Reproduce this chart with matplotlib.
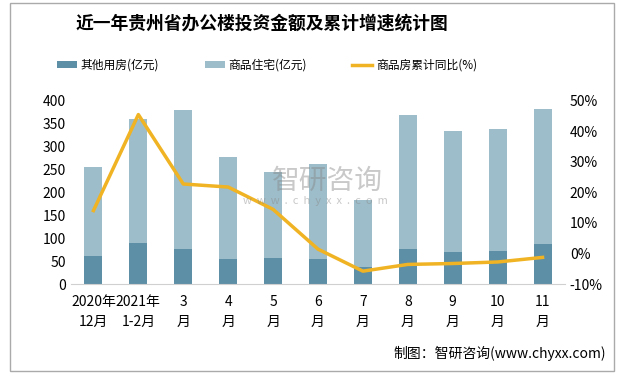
import numpy as np
import matplotlib.pyplot as plt
from matplotlib.patches import Rectangle
from matplotlib.ticker import FuncFormatter

plt.rcParams['font.family'] = ['Noto Sans CJK SC', 'DejaVu Sans']

# Data
labels = ["2020年\n12月", "2021年\n1-2月", "3\n月", "4\n月", "5\n月", "6\n月",
          "7\n月", "8\n月", "9\n月", "10\n月", "11\n月"]
other = [60, 90, 76, 55, 57, 55, 37, 76, 70, 72, 87]          # 其他用房(亿元)
total = [255, 360, 380, 277, 245, 262, 183, 369, 334, 338, 382]
residential = [t - o for t, o in zip(total, other)]          # 商品住宅(亿元)
growth = [14.0, 45.4, 22.7, 21.7, 14.4, 1.4, -5.8, -3.6, -3.3, -2.8, -1.3]  # 商品房累计同比(%)

c_dark = "#5d8fa6"
c_light = "#9dbdca"
c_line = "#f0b323"

fig = plt.figure(figsize=(6.23, 3.73), dpi=100)
fig.patches.append(Rectangle((10 / 623, 2 / 373), 604 / 623, 368 / 373, transform=fig.transFigure,
                             fill=False, edgecolor="#aaaaaa", linewidth=1))

ax = fig.add_axes([71 / 623, 1 - 284 / 373, 494 / 623, 183.5 / 373])
x = np.arange(len(labels))
ax.bar(x, other, width=0.4, color=c_dark, label="其他用房(亿元)", zorder=2)
ax.bar(x, residential, width=0.4, bottom=other, color=c_light, label="商品住宅(亿元)", zorder=2)
ax.set_xlim(-0.5, len(labels) - 0.5)
ax.set_ylim(0, 400)
ax.set_yticks(range(0, 401, 50))
ax.set_xticks(x)
ax.set_xticklabels(labels, fontsize=10, linespacing=1.5)
ax.tick_params(axis="both", length=0, labelsize=10)
ax.tick_params(axis="x", pad=8)
for s in ["top", "right", "left"]:
    ax.spines[s].set_visible(False)
ax.spines["bottom"].set_color("#d0d0d0")

ax2 = ax.twinx()
ax2.plot(x, growth, color=c_line, linewidth=2.5, label="商品房累计同比(%)", zorder=3)
ax2.set_ylim(-10, 50)
ax2.set_yticks(range(-10, 51, 10))
ax2.yaxis.set_major_formatter(FuncFormatter(lambda v, p: f"{int(v)}%"))
ax2.tick_params(axis="y", length=0, labelsize=10)
for s in ["top", "right", "left", "bottom"]:
    ax2.spines[s].set_visible(False)

# watermark
fig.text(272 / 623, 1 - 181 / 373, "智研咨询", fontsize=20, color="#888888", alpha=0.45,
         va="center", ha="left")
fig.text(243 / 623, 1 - 201 / 373, "w  w  w  .  c  h  y  x  x  .  c  o  m", fontsize=8,
         color="#888888", alpha=0.45, va="center", ha="left")

fig.text(262 / 623, 1 - 24 / 373, "近一年贵州省办公楼投资金额及累计增速统计图", fontsize=12.8,
         fontweight="bold", ha="center", va="center")

h1, l1 = ax.get_legend_handles_labels()
h2, l2 = ax2.get_legend_handles_labels()
fig.legend(h1 + h2, l1 + l2, loc="center", bbox_to_anchor=(267 / 623, 1 - 65 / 373), ncol=3,
           frameon=False, fontsize=8.5, handlelength=1.7, handleheight=0.5, columnspacing=3.85,
           handletextpad=0.3)

fig.text(606 / 623, 1 - 353 / 373, "制图：智研咨询(www.chyxx.com)", fontsize=10, ha="right",
         va="center")

fig.savefig("out.png", dpi=100)
